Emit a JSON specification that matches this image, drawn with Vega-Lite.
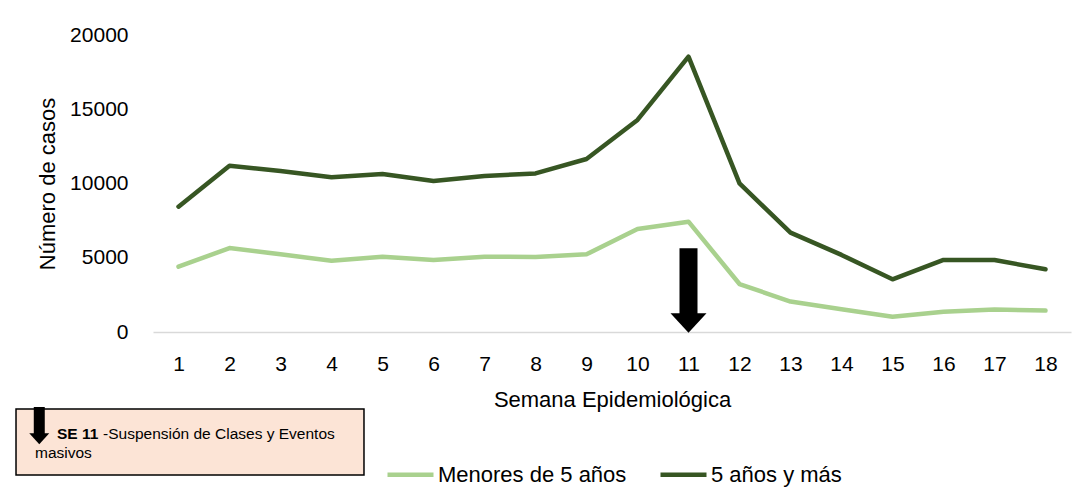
{
  "$schema": "https://vega.github.io/schema/vega-lite/v6.json",
  "width": 918,
  "height": 297,
  "autosize": {"type": "none"},
  "padding": {"left": 153, "top": 35, "right": 13, "bottom": 157},
  "background": "white",
  "config": {"view": {"stroke": null}, "font": "Liberation Sans"},
  "datasets": {
    "casos": [
      {"semana": 1, "grupo": "Menores de 5 años", "casos": 4400},
      {"semana": 2, "grupo": "Menores de 5 años", "casos": 5650},
      {"semana": 3, "grupo": "Menores de 5 años", "casos": 5230},
      {"semana": 4, "grupo": "Menores de 5 años", "casos": 4800},
      {"semana": 5, "grupo": "Menores de 5 años", "casos": 5070},
      {"semana": 6, "grupo": "Menores de 5 años", "casos": 4850},
      {"semana": 7, "grupo": "Menores de 5 años", "casos": 5070},
      {"semana": 8, "grupo": "Menores de 5 años", "casos": 5050},
      {"semana": 9, "grupo": "Menores de 5 años", "casos": 5230},
      {"semana": 10, "grupo": "Menores de 5 años", "casos": 6930},
      {"semana": 11, "grupo": "Menores de 5 años", "casos": 7430},
      {"semana": 12, "grupo": "Menores de 5 años", "casos": 3230},
      {"semana": 13, "grupo": "Menores de 5 años", "casos": 2050},
      {"semana": 14, "grupo": "Menores de 5 años", "casos": 1530},
      {"semana": 15, "grupo": "Menores de 5 años", "casos": 1030},
      {"semana": 16, "grupo": "Menores de 5 años", "casos": 1370},
      {"semana": 17, "grupo": "Menores de 5 años", "casos": 1520},
      {"semana": 18, "grupo": "Menores de 5 años", "casos": 1440},
      {"semana": 1, "grupo": "5 años y más", "casos": 8440},
      {"semana": 2, "grupo": "5 años y más", "casos": 11200},
      {"semana": 3, "grupo": "5 años y más", "casos": 10840},
      {"semana": 4, "grupo": "5 años y más", "casos": 10420},
      {"semana": 5, "grupo": "5 años y más", "casos": 10640},
      {"semana": 6, "grupo": "5 años y más", "casos": 10170},
      {"semana": 7, "grupo": "5 años y más", "casos": 10500},
      {"semana": 8, "grupo": "5 años y más", "casos": 10680},
      {"semana": 9, "grupo": "5 años y más", "casos": 11650},
      {"semana": 10, "grupo": "5 años y más", "casos": 14280},
      {"semana": 11, "grupo": "5 años y más", "casos": 18540},
      {"semana": 12, "grupo": "5 años y más", "casos": 10010},
      {"semana": 13, "grupo": "5 años y más", "casos": 6690},
      {"semana": 14, "grupo": "5 años y más", "casos": 5190},
      {"semana": 15, "grupo": "5 años y más", "casos": 3550},
      {"semana": 16, "grupo": "5 años y más", "casos": 4850},
      {"semana": 17, "grupo": "5 años y más", "casos": 4850},
      {"semana": 18, "grupo": "5 años y más", "casos": 4220}
    ]
  },
  "layer": [
    {
      "data": {"name": "casos"},
      "mark": {"type": "line", "strokeWidth": 4.5, "strokeCap": "round", "strokeJoin": "round"},
      "encoding": {
        "x": {
          "field": "semana", "type": "quantitative",
          "scale": {"domain": [0.5, 18.5], "nice": false, "zero": false},
          "axis": {
            "title": "Semana Epidemiológica",
            "values": [1, 2, 3, 4, 5, 6, 7, 8, 9, 10, 11, 12, 13, 14, 15, 16, 17, 18],
            "format": "d", "domainColor": "#d9d9d9", "domainWidth": 1.5,
            "ticks": false, "grid": false, "labelFlush": false, "labelOverlap": false,
            "labelFontSize": 21, "labelColor": "black", "labelPadding": 21,
            "titleFontSize": 22, "titleFontWeight": "normal", "titleColor": "black", "titlePadding": 15
          }
        },
        "y": {
          "field": "casos", "type": "quantitative",
          "scale": {"domain": [0, 20000], "nice": false},
          "axis": {
            "title": "Número de casos",
            "values": [0, 5000, 10000, 15000, 20000],
            "format": "d", "domain": false, "ticks": false, "grid": false,
            "labelFontSize": 21, "labelColor": "black", "labelPadding": 25,
            "titleFontSize": 22, "titleFontWeight": "normal", "titleColor": "black", "titlePadding": 10
          }
        },
        "color": {
          "field": "grupo", "type": "nominal",
          "scale": {"domain": ["Menores de 5 años", "5 años y más"], "range": ["#a9d18e", "#375623"]},
          "legend": {
            "orient": "none", "legendX": 232, "legendY": 414, "direction": "horizontal",
            "title": null, "symbolType": "stroke", "symbolSize": 2116, "symbolStrokeWidth": 4.5,
            "labelFontSize": 22, "labelOffset": 2, "columnPadding": 24, "labelLimit": 400, "labelColor": "black"
          }
        }
      }
    },
    {
      "data": {"values": [{"x": -2.186, "x2": 4.637, "y": -5185, "y2": -9630}]},
      "mark": {"type": "rect", "fill": "#fce4d6", "stroke": "black", "strokeWidth": 1.5},
      "encoding": {
        "x": {"field": "x", "type": "quantitative", "scale": {"domain": [0.5, 18.5], "nice": false, "zero": false}},
        "x2": {"field": "x2"},
        "y": {"field": "y", "type": "quantitative", "scale": {"domain": [0, 20000], "nice": false}},
        "y2": {"field": "y2"}
      }
    },
    {
      "data": {"values": [{"x": -1.73, "y": -5051, "y2": -6900}]},
      "mark": {"type": "rule", "color": "black", "strokeWidth": 11, "strokeCap": "butt"},
      "encoding": {
        "x": {"field": "x", "type": "quantitative", "scale": {"domain": [0.5, 18.5], "nice": false, "zero": false}},
        "y": {"field": "y", "type": "quantitative", "scale": {"domain": [0, 20000], "nice": false}},
        "y2": {"field": "y2"}
      }
    },
    {
      "data": {"values": [{"x": -1.73, "y": -7192}]},
      "mark": {"type": "point", "shape": "M-1,-0.55L1,-0.55L0,0.55Z", "filled": true, "color": "black", "opacity": 1, "size": 400},
      "encoding": {
        "x": {"field": "x", "type": "quantitative", "scale": {"domain": [0.5, 18.5], "nice": false, "zero": false}},
        "y": {"field": "y", "type": "quantitative", "scale": {"domain": [0, 20000], "nice": false}}
      }
    },
    {
      "data": {"values": [{"x": -1.382, "y": -6869, "texto": "SE 11"}]},
      "mark": {"type": "text", "align": "left", "baseline": "middle", "fontSize": 15.5, "fontWeight": "bold", "color": "black"},
      "encoding": {
        "x": {"field": "x", "type": "quantitative", "scale": {"domain": [0.5, 18.5], "nice": false, "zero": false}},
        "y": {"field": "y", "type": "quantitative", "scale": {"domain": [0, 20000], "nice": false}},
        "text": {"field": "texto"}
      }
    },
    {
      "data": {"values": [
        {"x": -0.48, "y": -6869, "texto": "-Suspensión de Clases  y Eventos"},
        {"x": -1.814, "y": -8148, "texto": "masivos"}
      ]},
      "mark": {"type": "text", "align": "left", "baseline": "middle", "fontSize": 15.5, "color": "black"},
      "encoding": {
        "x": {"field": "x", "type": "quantitative", "scale": {"domain": [0.5, 18.5], "nice": false, "zero": false}},
        "y": {"field": "y", "type": "quantitative", "scale": {"domain": [0, 20000], "nice": false}},
        "text": {"field": "texto"}
      }
    },
    {
      "data": {"values": [{"x": 11, "y": 5636, "y2": 1100}]},
      "mark": {"type": "rule", "color": "black", "strokeWidth": 18, "strokeCap": "butt"},
      "encoding": {
        "x": {"field": "x", "type": "quantitative", "scale": {"domain": [0.5, 18.5], "nice": false, "zero": false}},
        "y": {"field": "y", "type": "quantitative", "scale": {"domain": [0, 20000], "nice": false}},
        "y2": {"field": "y2"}
      }
    },
    {
      "data": {"values": [{"x": 11, "y": 606}]},
      "mark": {"type": "point", "shape": "M-1,-0.54L1,-0.54L0,0.54Z", "filled": true, "color": "black", "opacity": 1, "size": 1296},
      "encoding": {
        "x": {"field": "x", "type": "quantitative", "scale": {"domain": [0.5, 18.5], "nice": false, "zero": false}},
        "y": {"field": "y", "type": "quantitative", "scale": {"domain": [0, 20000], "nice": false}}
      }
    }
  ]
}
